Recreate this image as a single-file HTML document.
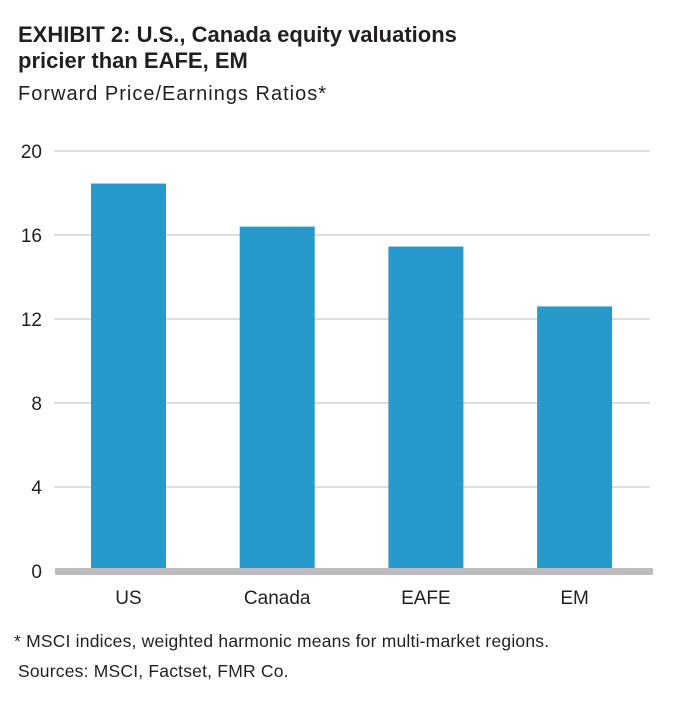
<!DOCTYPE html>
<html><head><meta charset="utf-8"><style>
body{margin:0;background:#fff;width:680px;height:710px;overflow:hidden;font-family:"Liberation Sans",sans-serif;color:#231f20}
.t{position:absolute;left:18px;font-size:22px;font-weight:bold;line-height:26px}
</style></head><body>
<div class="t" style="top:22px">EXHIBIT 2: U.S., Canada equity valuations<br>pricier than EAFE, EM</div>
<div style="position:absolute;left:18px;top:83px;font-size:20px;letter-spacing:1px">Forward Price/Earnings Ratios*</div>
<svg id="c" width="680" height="710" style="position:absolute;left:0;top:0"></svg>
<div style="position:absolute;left:14px;top:631px;font-size:17.5px;letter-spacing:0.2px">* MSCI indices, weighted harmonic means for multi-market regions.</div>
<div style="position:absolute;left:18px;top:661px;font-size:17.5px;letter-spacing:0.2px">Sources: MSCI, Factset, FMR Co.</div>
<script>
const categories=["US","Canada","EAFE","EM"];
const values=[18.45,16.4,15.45,12.6];
const ticks=[0,4,8,12,16,20];
const svg=document.getElementById('c');
const NS='http://www.w3.org/2000/svg';
const y=v=>571-v*21;
const x=i=>91+i*148.7;
function mk(t,a){const e=document.createElementNS(NS,t);for(const k in a)e.setAttribute(k,a[k]);svg.appendChild(e);return e;}
ticks.forEach(t=>{
 if(t>0){const l=mk('line',{x1:54,x2:650,y1:y(t),y2:y(t),stroke:'#bcbcbc','stroke-width':1});
 
 }
 const tx=mk('text',{x:42,y:y(t)+7,'text-anchor':'end','font-size':19,fill:'#231f20','font-family':'Liberation Sans'});
 tx.textContent=t;
 
 
});
values.forEach((v,i)=>{
 const r=mk('rect',{x:x(i),y:y(v),width:75,height:y(0)-y(v),fill:'#2899cb'});
 
 
 const tx=mk('text',{x:x(i)+37.5,y:604,'text-anchor':'middle','font-size':19,fill:'#231f20','font-family':'Liberation Sans'});
 tx.textContent=categories[i];
 
 
});
const b=mk('rect',{x:55,y:568,width:598,height:7,fill:'#bcbcbe'});


</script>
</body></html>
